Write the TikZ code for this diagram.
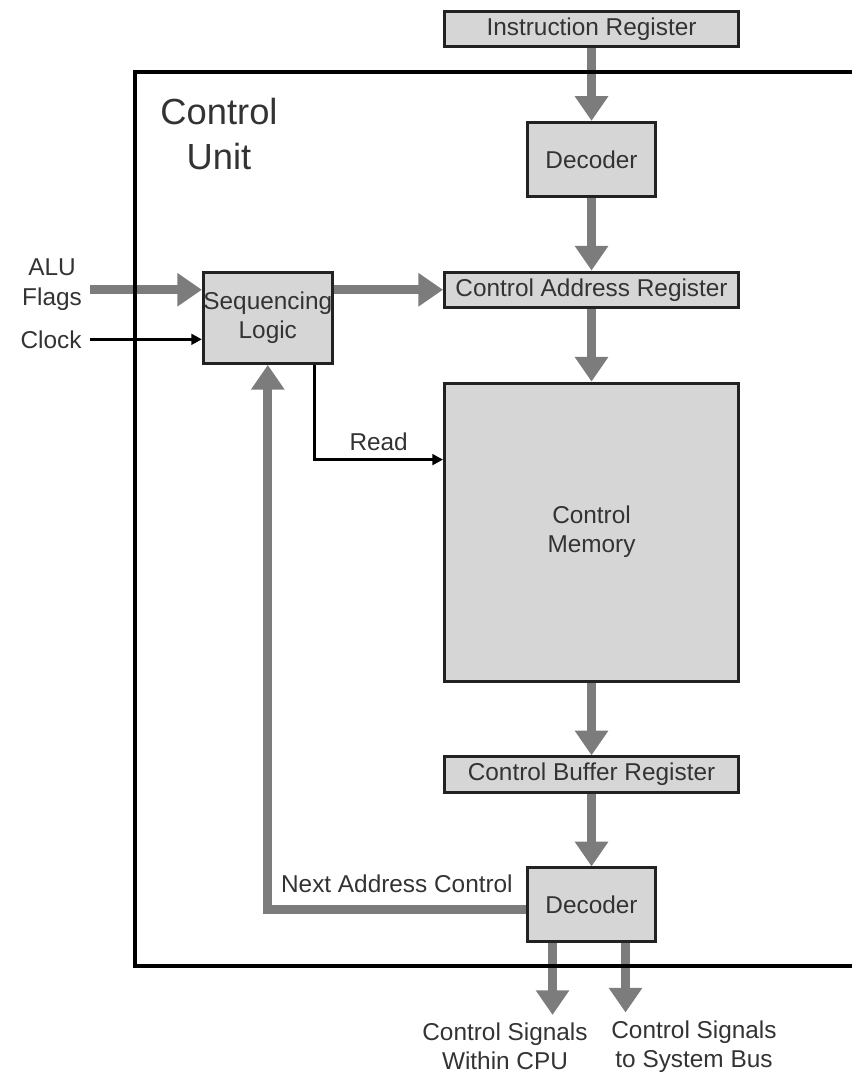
\documentclass[tikz,border=0pt]{standalone}
\usepackage{fontspec}
\setmainfont{Liberation Sans}
\usepackage{xcolor}
\usetikzlibrary{arrows.meta, positioning}
\definecolor{boxfill}{HTML}{D6D6D6}
\definecolor{boxline}{HTML}{222222}
\definecolor{flowgray}{HTML}{7C7C7C}
\definecolor{inkgray}{HTML}{333333}
\tikzstyle{register} = [rectangle, minimum width=4.41cm, minimum height=0.53cm, inner sep=0pt, text centered, draw=boxline, fill=boxfill, line width=1.3pt]
\tikzstyle{block} = [rectangle, minimum width=1.92cm, minimum height=1.11cm, inner sep=0pt, align=center, draw=boxline, fill=boxfill, line width=1.3pt]
\tikzstyle{memory} = [rectangle, minimum width=4.41cm, minimum height=4.47cm, align=center, draw=boxline, fill=boxfill, line width=1.3pt]
\tikzstyle{bigarrow} = [line width=3.7pt, draw=flowgray, -{Triangle[width=0.48cm, length=0.37cm]}]
\tikzstyle{thinarrow} = [line width=1.2pt, draw=black, -{Triangle[width=0.16cm, length=0.16cm]}]
\tikzstyle{frame} = [line width=1.7pt, draw=black]

\begin{document}
\begin{tikzpicture}[node distance=1.09cm, font=\fontsize{10.4}{12.4}\selectfont, text=inkgray]
\useasboundingbox (0,0) rectangle (12.78,-16.11);

% Main column
\node (ir) [register] at (8.873,-0.435) {Instruction Register};
\node (dec1) [block, below=of ir] {Decoder};
\node (car) [register, below=of dec1] {Control Address Register};
\node (cm) [memory, below=of car] {Control\\Memory};
\node (cbr) [register, below=of cm] {Control Buffer Register};
\node (dec2) [block, below=of cbr] {Decoder};

% Sequencing
\node (seq) [block, minimum height=1.37cm, left=1.64cm of car.west, yshift=-0.42cm] {Sequencing\\Logic};
\node (cu) at (3.285,-2.01) [align=center, font=\fontsize{15.5}{19.2}\selectfont] {Control\\Unit};

% Inputs and outputs
\node (alu) at (0.78,-4.27) [align=center] {ALU\\Flags};
\node (clk) at (0.765,-5.09) {Clock};
\node (sig1) at (7.575,-15.7) [align=center] {Control Signals\\Within CPU};
\node (sig2) at (10.41,-15.7) [align=center] {Control Signals\\to System Bus};

% Flow
\draw[bigarrow] (ir) -- (dec1);
\draw[bigarrow] (dec1) -- (car);
\draw[bigarrow] (car) -- (cm);
\draw[bigarrow] (cm) -- (cbr);
\draw[bigarrow] (cbr) -- (dec2);
\draw[bigarrow] (alu.east |- car.west) -- (seq.west |- car.west);
\draw[bigarrow] (seq.east |- car.west) -- (car.west);
\draw[thinarrow] (clk.east) -- (seq.west |- clk.east);
\draw[thinarrow] ([xshift=-0.29cm]seq.south east) |- ([yshift=-1.17cm]cm.north west) node[pos=0.75, above] {Read};
\draw[bigarrow] ([yshift=-0.07cm]dec2.west) -| (seq.south) node[pos=0.25, above=2pt] {Next Address Control};
\draw[bigarrow] ([xshift=-0.585cm]dec2.south) -- ([xshift=-0.585cm]dec2.south |- sig1.north);
\draw[bigarrow] ([xshift=0.51cm]dec2.south) -- ([xshift=0.51cm]dec2.south |- sig2.north);

% Control unit border
\draw[frame] (12.78,-1.08) -- (2.025,-1.08) -- (2.025,-14.49) -- (12.78,-14.49);

\end{tikzpicture}
\end{document}
